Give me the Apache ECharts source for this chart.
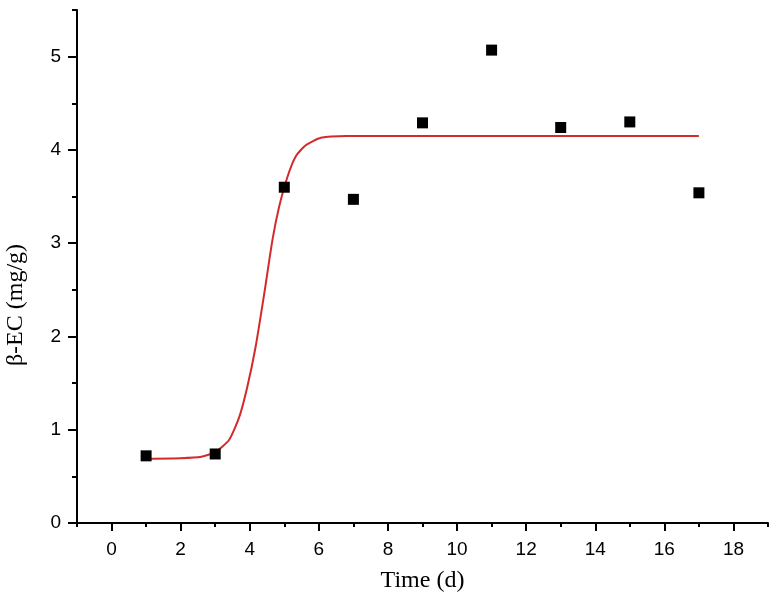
<!DOCTYPE html>
<html>
<head>
<meta charset="utf-8">
<script src="https://cdn.jsdelivr.net/npm/echarts@6/dist/echarts.min.js"></script>
<style>
  html, body { margin: 0; padding: 0; background: #fff; }
  #chart { width: 774px; height: 598px; }
</style>
</head>
<body>
<div id="chart"></div>
<script>
// measured points
var days = [1, 3, 5, 7, 9, 11, 13, 15, 17];
var betaEC = [0.72, 0.74, 3.60, 3.47, 4.29, 5.07, 4.24, 4.30, 3.54];

// fitted curve
var fitX = [1, 2, 2.6, 3, 3.4, 3.7, 3.93, 4.17, 4.42, 4.66, 4.85, 5.09, 5.33, 5.62, 6.06, 6.8, 8, 17];
var fitY = [0.69, 0.695, 0.71, 0.76, 0.89, 1.14, 1.46, 1.89, 2.46, 3.04, 3.39, 3.71, 3.93, 4.05, 4.13, 4.15, 4.15, 4.15];

// ticks
var xMajor = [0, 2, 4, 6, 8, 10, 12, 14, 16, 18];
var xMinor = [-1, 1, 3, 5, 7, 9, 11, 13, 15, 17, 19];
var yMajor = [0, 1, 2, 3, 4, 5];
var yMinor = [0.5, 1.5, 2.5, 3.5, 4.5, 5.5];

var chart = echarts.init(document.getElementById('chart'));

var box = { left: 77, right: 6, top: 10, bottom: 75 };
var tickStyle = { color: '#000', width: 2 };

var option = {
    animation: false,
    // second grid on the same box only carries the minor ticks
    grid: [Object.assign({}, box), Object.assign({}, box)],
    xAxis: [
        {
            type: 'value', gridIndex: 0, min: -1, max: 19,
            splitLine: { show: false },
            axisLine: { onZero: false, lineStyle: { color: '#000', width: 2 } },
            axisTick: { length: 8, lineStyle: tickStyle, customValues: xMajor },
            axisLabel: { customValues: xMajor, margin: 17, color: '#000', fontSize: 19, fontFamily: 'Liberation Sans' },
            name: 'Time (d)',
            nameLocation: 'middle',
            nameGap: 46,
            nameTextStyle: { color: '#000', fontSize: 24, fontFamily: 'Liberation Serif' }
        },
        {
            type: 'value', gridIndex: 1, min: -1, max: 19,
            splitLine: { show: false },
            axisLine: { show: false, onZero: false },
            axisTick: { show: true, length: 4, lineStyle: tickStyle, customValues: xMinor },
            axisLabel: { show: false }
        }
    ],
    yAxis: [
        {
            type: 'value', gridIndex: 0, min: 0, max: 5.5,
            splitLine: { show: false },
            axisLine: { show: true, onZero: false, lineStyle: { color: '#000', width: 2 } },
            axisTick: { show: true, length: 9, lineStyle: tickStyle, customValues: yMajor },
            axisLabel: { customValues: yMajor, margin: 16, color: '#000', fontSize: 19, fontFamily: 'Liberation Sans' }
        },
        {
            type: 'value', gridIndex: 1, min: 0, max: 5.5,
            splitLine: { show: false },
            axisLine: { show: false, onZero: false },
            axisTick: { show: true, length: 5, lineStyle: tickStyle, customValues: yMinor },
            axisLabel: { show: false }
        }
    ],
    graphic: [{
        type: 'text',
        x: 16, y: 305,
        rotation: Math.PI / 2,
        style: {
            text: 'β-EC (mg/g)',
            fill: '#000',
            font: '24px "Liberation Serif"',
            align: 'center',
            verticalAlign: 'middle'
        }
    }],
    series: [
        {
            type: 'line',
            xAxisIndex: 0, yAxisIndex: 0,
            data: fitX.map(function (x, i) { return [x, fitY[i]]; }),
            showSymbol: false,
            smooth: 0.2,
            lineStyle: { color: '#d42a2a', width: 2 },
            z: 2
        },
        {
            type: 'scatter',
            xAxisIndex: 0, yAxisIndex: 0,
            data: days.map(function (d, i) { return [d, betaEC[i]]; }),
            symbol: 'rect',
            symbolSize: 11,
            itemStyle: { color: '#000', opacity: 1 },
            z: 3
        }
    ]
};

chart.setOption(option);
</script>
</body>
</html>
